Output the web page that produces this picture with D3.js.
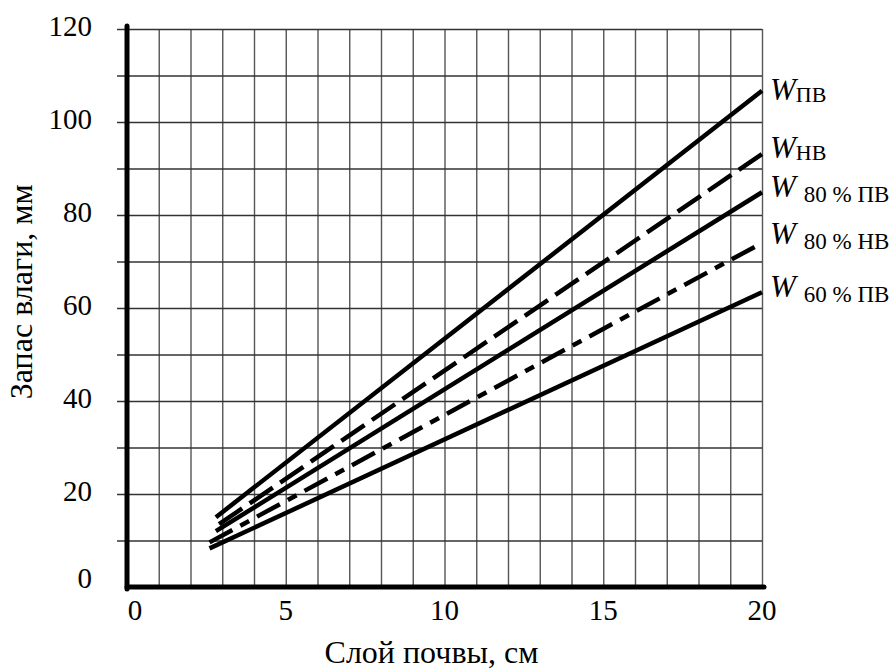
<!DOCTYPE html>
<html>
<head>
<meta charset="utf-8">
<script src="https://cdn.jsdelivr.net/npm/d3@7"></script>
<style>
  body { margin: 0; background: #fff; }
  text { font-family: "Liberation Serif", "Times New Roman", serif; fill: #000; }
</style>
</head>
<body>
<script>
// soil layer (cm) vs moisture storage (mm)
const seriesKeys = ["pv", "nv", "pv80", "nv80", "pv60"];
const labelMain = ["W", "W", "W", "W", "W"];
const labelSub = ["ПВ", "НВ", "80 % ПВ", "80 % НВ", "60 % ПВ"];
const layerStart = [2.8, 2.9, 2.8, 2.6, 2.6];
const layerEnd = [20, 20, 20, 20, 20];
const storeStart = [15.0, 13.5, 12.0, 9.6, 8.3];
const storeEnd = [106.7, 93.1, 84.9, 74.0, 63.4];
const xTicks = [0, 5, 10, 15, 20];
const yTicks = [0, 20, 40, 60, 80, 100, 120];

const W = 896, H = 669;
const margin = {top: 29, right: 134, bottom: 82, left: 127};
const width = W - margin.left - margin.right;
const height = H - margin.top - margin.bottom;

// dash styles per series
const dashes = {pv: null, nv: "28,9", pv80: null, nv80: "26,9,10,9", pv60: null};

const svg = d3.select("body").append("svg")
    .attr("width", W)
    .attr("height", H);

const g = svg.append("g")
    .attr("transform", "translate(" + margin.left + "," + margin.top + ")");

const x = d3.scaleLinear().domain([0, 20]).range([0, width]);
const y = d3.scaleLinear().domain([0, 120]).range([height, 0]);

// grid: every 1 cm vertically, every 10 mm horizontally
g.append("g")
    .attr("class", "grid-x")
    .call(d3.axisBottom(x).tickValues(d3.range(1, 21)).tickSize(-height).tickFormat(""))
    .attr("transform", "translate(0," + height + ")")
    .call(s => s.select(".domain").remove())
    .selectAll("line").attr("stroke", "#555").attr("stroke-width", 1.4);

g.append("g")
    .attr("class", "grid-y")
    .call(d3.axisLeft(y).tickValues(d3.range(10, 121, 10)).tickSize(-width - 10).tickFormat(""))
    .attr("transform", "translate(" + (-10) + ",0)")
    .call(s => s.select(".domain").remove())
    .selectAll("line").attr("stroke", "#333").attr("stroke-width", 1.4)
    .attr("x2", width + 10);

// lines
const rows = seriesKeys.map((k, i) => ({
    key: k,
    pts: [[layerStart[i], storeStart[i]], [layerEnd[i], storeEnd[i]]]
}));

const line = d3.line().x(d => x(d[0])).y(d => y(d[1]));

g.selectAll(".series")
    .data(rows)
    .enter()
    .append("path")
    .attr("class", "series")
    .attr("d", d => line(d.pts))
    .attr("fill", "none")
    .attr("stroke", "#000")
    .attr("stroke-width", 4.5)
    .attr("stroke-dasharray", d => dashes[d.key]);

// thick axes
g.append("line")
    .attr("x1", x(0)).attr("x2", x(0))
    .attr("y1", y(120) - 3).attr("y2", y(0) + 2)
    .attr("stroke", "#000").attr("stroke-width", 5).attr("stroke-linecap", "round");
g.append("line")
    .attr("x1", x(0)).attr("x2", x(20) + 2)
    .attr("y1", y(0)).attr("y2", y(0))
    .attr("stroke", "#000").attr("stroke-width", 5).attr("stroke-linecap", "round");

// tick labels
g.selectAll(".xl")
    .data(xTicks)
    .enter()
    .append("text")
    .attr("class", "xl")
    .attr("x", d => x(d) + (d === 0 ? 8 : 0))
    .attr("y", height + 33)
    .attr("text-anchor", "middle")
    .attr("font-size", 29)
    .text(d => d);

g.selectAll(".yl")
    .data(yTicks)
    .enter()
    .append("text")
    .attr("class", "yl")
    .attr("x", -35)
    .attr("y", d => y(d) + (d === 0 ? 1 : 7))
    .attr("text-anchor", "end")
    .attr("font-size", 29)
    .text(d => d);

// axis titles
svg.append("text")
    .attr("x", margin.left + x(10) - 13)
    .attr("y", 663)
    .attr("text-anchor", "middle")
    .attr("font-size", 32)
    .text("Слой почвы, см");

svg.append("text")
    .attr("transform", "translate(32," + (margin.top + y(63.5)) + ") rotate(-90)")
    .attr("text-anchor", "middle")
    .attr("font-size", 32)
    .text("Запас влаги, мм");

// end labels
const lblOffset = [9, 4, 5, 1, 5];
const lab = g.selectAll(".lab")
    .data(rows)
    .enter()
    .append("text")
    .attr("class", "lab")
    .attr("x", x(20) + 8)
    .attr("y", (d, i) => y(storeEnd[i]) + lblOffset[i]);

lab.append("tspan")
    .attr("font-style", "italic")
    .attr("font-size", 31)
    .text((d, i) => labelMain[i]);

lab.append("tspan")
    .attr("font-size", (d, i) => labelSub[i].length > 2 ? 23 : 22)
    .attr("dx", (d, i) => labelSub[i].length > 2 ? 8 : 0)
    .attr("dy", (d, i) => labelSub[i].length > 2 ? 5 : 2)
    .text((d, i) => labelSub[i]);
</script>
</body>
</html>
